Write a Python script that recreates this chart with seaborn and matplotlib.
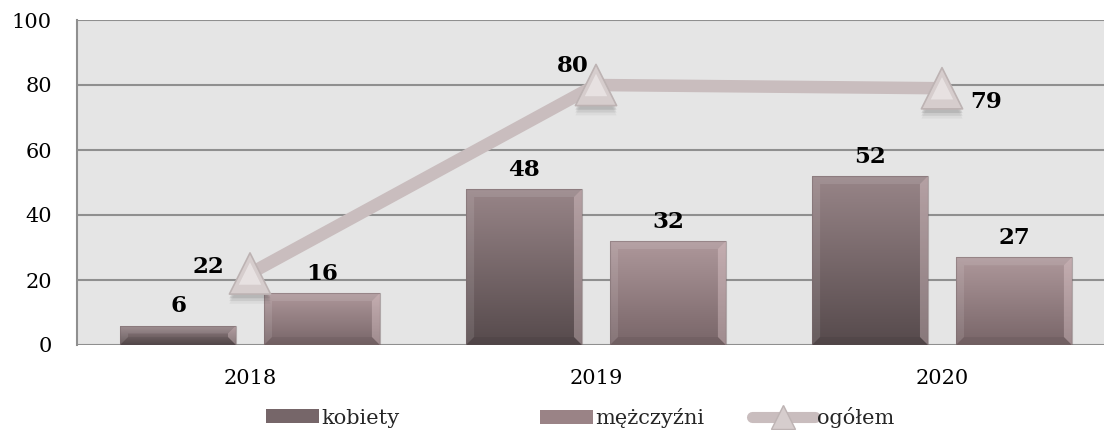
import numpy as np
import pandas as pd
import seaborn as sns
import matplotlib.pyplot as plt
import matplotlib.patheffects as pe
from matplotlib.patches import Polygon, Rectangle
from matplotlib.lines import Line2D
from matplotlib.colors import LinearSegmentedColormap

# Data
years = ["2018", "2019", "2020"]
kobiety = [6, 48, 52]
mezczyzni = [16, 32, 27]
ogolem = [22, 80, 79]
series_names = ["kobiety", "mężczyźni", "ogółem"]
y_ticks = [0, 20, 40, 60, 80, 100]

df = pd.DataFrame({
    "rok": years * 2,
    "płeć": [series_names[0]] * 3 + [series_names[1]] * 3,
    "liczba": kobiety + mezczyzni,
})

sns.set_theme(style="whitegrid")
plt.rcParams["font.family"] = ["DejaVu Serif"]

W, H = 1104, 430
fig = plt.figure(figsize=(W / 100, H / 100), dpi=100)
ax = fig.add_axes([77 / W, 85 / H, 1038 / W, 325 / H])
ax.set_facecolor("#e5e5e5")

base_cols = {"kobiety": "#766669", "mężczyźni": "#9a8386"}
grad = {
    "kobiety": ("#988588", "#564a4c"),
    "mężczyźni": ("#ae989b", "#786568"),
}
line_col = "#c9bdbe"

sns.barplot(data=df, x="rok", y="liczba", hue="płeć",
            palette=base_cols, width=0.832, gap=0.195,
            ax=ax, legend=False, zorder=3, linewidth=0)

bars = list(ax.patches)
n = len(years)
bar_series = [series_names[0]] * n + [series_names[1]] * n
bar_values = kobiety + mezczyzni

# Line for the total with triangle markers
xs = np.arange(n)
sns.lineplot(x=xs, y=ogolem, ax=ax, color=line_col, lw=9, zorder=4,
             legend=False)
shadow = [pe.SimplePatchShadow(offset=(0, -d), shadow_rgbFace="#444444",
                               alpha=a)
          for d, a in [(7, 0.06), (5, 0.10), (3, 0.14)]]
sns.scatterplot(x=xs, y=ogolem, ax=ax, marker="^", s=880,
                color="#d6cdcd", edgecolor="#bdb3b3", linewidth=1.2,
                zorder=5, legend=False,
                path_effects=shadow + [pe.Normal()])
# lighter highlight inside each triangle
sns.scatterplot(x=xs, y=ogolem, ax=ax, marker="^", s=260,
                color="#ece7e7", edgecolor="none", linewidth=0,
                zorder=5.1, legend=False, alpha=0.8)

ax.set_xlim(-0.5, n - 0.5)
ax.set_ylim(0, 100)
ax.set_yticks(y_ticks)
ax.set_xticks(xs)
ax.set_xticklabels(years)

# Gradient fill and bevelled edges on each bar
fig.canvas.draw()
to_px = ax.transData
inv = ax.transData.inverted()
for patch, name in zip(bars, bar_series):
    x0, y0 = patch.get_x(), patch.get_y()
    w, h = patch.get_width(), patch.get_height()
    top, bot = grad[name]
    cmap = LinearSegmentedColormap.from_list(name, [bot, top])
    g = np.linspace(0, 1, 256).reshape(-1, 1)
    im = ax.imshow(g, cmap=cmap, origin="lower", aspect="auto",
                   extent=(x0, x0 + w, y0, y0 + h), zorder=3.1)
    im.set_clip_path(patch)
    p0 = to_px.transform((x0, y0))
    p1 = to_px.transform((x0 + w, y0 + h))
    bpx = min(8, (p1[1] - p0[1]) / 2, (p1[0] - p0[0]) / 2)
    q0 = inv.transform((p0[0] + bpx, p0[1] + bpx))
    q1 = inv.transform((p1[0] - bpx, p1[1] - bpx))
    X0, Y0, X1, Y1 = x0, y0, x0 + w, y0 + h
    bx0, by0, bx1, by1 = q0[0], q0[1], q1[0], q1[1]
    faces = [
        ([(X0, Y0), (bx0, by0), (bx0, by1), (X0, Y1)], "white", 0.10),
        ([(X1, Y0), (bx1, by0), (bx1, by1), (X1, Y1)], "#f4dde0", 0.32),
        ([(X0, Y1), (X1, Y1), (bx1, by1), (bx0, by1)], "white", 0.10),
        ([(X0, Y0), (X1, Y0), (bx1, by0), (bx0, by0)], "black", 0.06),
    ]
    for pts, c, a in faces:
        ax.add_patch(Polygon(pts, closed=True, facecolor=c, alpha=a,
                             edgecolor="none", zorder=3.2))
    ax.add_patch(Rectangle((X0, Y0), w, h, fill=False,
                           edgecolor="#7a6a6d", lw=0.8, alpha=0.5,
                           zorder=3.3))

# Value labels on bars
for patch, val in zip(bars, bar_values):
    cx = patch.get_x() + patch.get_width() / 2
    ax.annotate(f"{val}", (cx, val), xytext=(0, 6), textcoords="offset points",
                ha="center", va="bottom", fontsize=16.5, fontweight="bold",
                color="black", zorder=6)

# Value labels on the total line
line_offsets = [(-30, 5), (-16.5, 14), (32, -10)]
for x, val, off in zip(xs, ogolem, line_offsets):
    ax.annotate(f"{val}", (x, val), xytext=off, textcoords="offset points",
                ha="center", va="center", fontsize=16.5, fontweight="bold",
                color="black", zorder=6)

# Axes styling
ax.grid(axis="y", color="#8f8f8f", lw=1.5, zorder=0)
ax.grid(axis="x", visible=False)
for side in ["top", "right", "bottom"]:
    ax.spines[side].set_visible(False)
ax.spines["left"].set_color("#8f8f8f")
ax.spines["left"].set_linewidth(1.5)
ax.tick_params(axis="y", length=0, pad=18, labelsize=15, colors="black")
ax.tick_params(axis="x", length=0, pad=17, labelsize=15, colors="black")
ax.set_xlabel("")
ax.set_ylabel("")

# Legend entries
handles = [
    Rectangle((0, 0), 1, 1, facecolor=base_cols["kobiety"], edgecolor="none"),
    Rectangle((0, 0), 1, 1, facecolor=base_cols["mężczyźni"], edgecolor="none"),
    Line2D([], [], color=line_col, lw=8, marker="^", markersize=17,
           markerfacecolor="#d6cdcd", markeredgecolor="#bdb3b3"),
]
legend_x = [266, 540, 752]
legend_len = [2.55, 2.55, 3.0]
for hnd, name, lx, hl in zip(handles, series_names, legend_x, legend_len):
    fig.legend([hnd], [name], loc="center left",
               bbox_to_anchor=(lx / W, 12 / H), frameon=False, fontsize=15,
               handlelength=hl, handleheight=0.65, handletextpad=0.12,
               borderpad=0, borderaxespad=0)

fig.savefig("out.png", dpi=100)
